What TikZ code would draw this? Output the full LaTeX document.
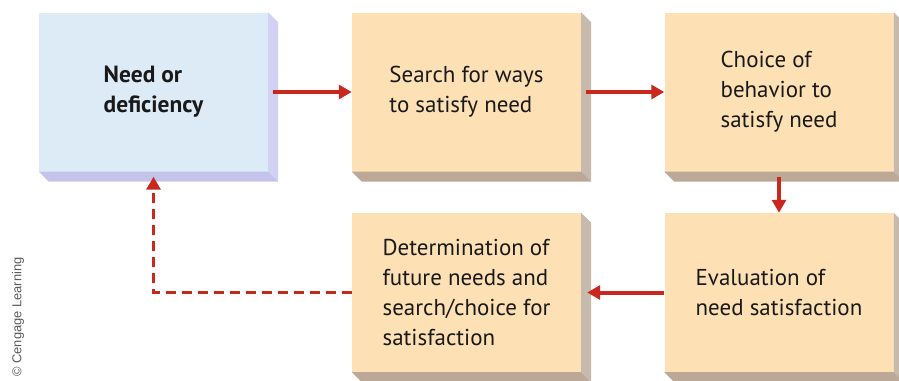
\documentclass[tikz,border=0pt]{standalone}
\usepackage{fontspec}
\setmainfont{PT Sans}
\newfontfamily\creditfont{Liberation Sans}
\usetikzlibrary{arrows.meta,positioning,calc}
\definecolor{needface}{RGB}{221,235,247}
\definecolor{needside}{RGB}{209,209,243}
\definecolor{needfloor}{RGB}{196,196,235}
\definecolor{tanface}{RGB}{253,225,181}
\definecolor{tanside}{RGB}{199,185,171}
\definecolor{tanfloor}{RGB}{187,168,151}
\definecolor{flowred}{RGB}{200,40,30}
\definecolor{creditgray}{RGB}{90,90,90}
\tikzset{
  flow box/.style={
    minimum width=6.87cm,
    minimum height=4.77cm,
    inner sep=0pt,
    align=left,
    font=\fontsize{19.6}{25.6}\selectfont,
    text=black!90,
  },
  flow arrow/.style={
    -{Triangle[length=3.9mm,width=4.2mm]},
    line width=3.4pt,
    draw=flowred,
  },
  back arrow/.style={
    -{Triangle[length=3.9mm,width=4.2mm]},
    line width=3.2pt,
    draw=flowred,
    dash pattern=on 3mm off 1.8mm,
  },
}
\begin{document}
\begin{tikzpicture}[x=0.03cm,y=-0.03cm]
  \useasboundingbox (0,0) rectangle (899,380);
  \node[flow box, fill=needface, font=\fontsize{20}{25.6}\selectfont\bfseries] (need) at (153.5,92)
    {Need or\\deficiency};
  \node[flow box, fill=tanface] (search) at (466.5,92)
    {Search for ways\\to satisfy need};
  \node[flow box, fill=tanface] (choice) at (779,92)
    {Choice of\\behavior to\\satisfy need};
  \node[flow box, fill=tanface] (eval) at (779,292.5)
    {Evaluation of\\need satisfaction};
  \node[flow box, fill=tanface] (determ) at (466.5,292.5)
    {Determination of\\future needs and\\search/choice for\\satisfaction};

  % bevelled edges
  \foreach \b/\s/\f in {need/needside/needfloor, search/tanside/tanfloor,
      choice/tanside/tanfloor, eval/tanside/tanfloor, determ/tanside/tanfloor} {
    \fill[\s] (\b.north east) -- ++(10,10) -- ($(\b.south east)+(10,10)$)
      -- (\b.south east) -- cycle;
    \fill[\f] (\b.south west) -- ++(10,10) -- ($(\b.south east)+(10,10)$)
      -- (\b.south east) -- cycle;
  }

  \draw[flow arrow] ($(need.east)+(5,0)$) -- (search.west);
  \draw[flow arrow] ($(search.east)+(5,0)$) -- (choice.west);
  \draw[flow arrow] ($(choice.south)+(0,5)$) -- (eval.north);
  \draw[flow arrow] (eval.west) -- ($(determ.east)+(6,0)$);
  \draw[back arrow] (determ.west) -| ($(need.south)+(0,5)$);

  \node[rotate=90, font=\creditfont\fontsize{11}{12}\selectfont, text=creditgray]
    (credit) at (18,317) {\textcopyright{} Cengage Learning};
\end{tikzpicture}
\end{document}
